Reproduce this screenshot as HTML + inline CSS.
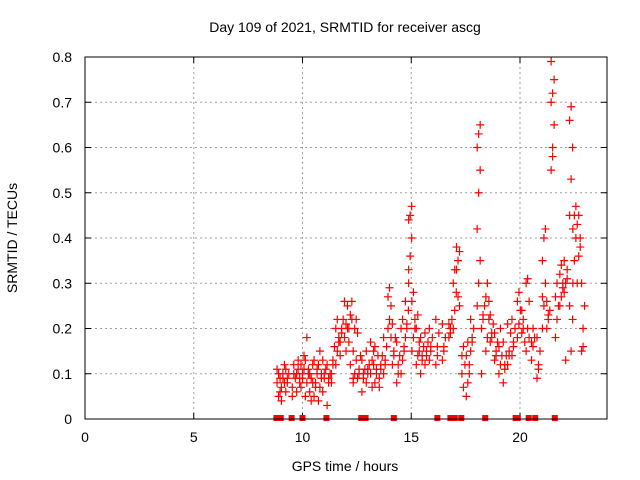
<!DOCTYPE html>
<html><head><meta charset="utf-8"><style>
body{margin:0;background:#fff}
svg{display:block;font-family:"Liberation Sans",sans-serif}
</style></head><body>
<svg id="chart" width="640" height="480" xmlns="http://www.w3.org/2000/svg">
<rect width="640" height="480" fill="#fff"/>
<text x="345" y="32" font-size="14" text-anchor="middle">Day 109 of 2021, SRMTID for receiver ascg</text>
<text x="345" y="471" font-size="14" text-anchor="middle">GPS time / hours</text>
<text transform="translate(17,238) rotate(-90)" font-size="14" text-anchor="middle">SRMTID / TECUs</text>
<g id="grid"></g><g id="axes"></g><g id="marks"></g>
<rect x="85" y="57" width="522" height="362" fill="none" stroke="#000" stroke-width="1"/>
</svg>
<script>
const xTicks=[0,5,10,15,20];
const yTicks=[0,0.1,0.2,0.3,0.4,0.5,0.6,0.7,0.8];
const yTickLabels=["0","0.1","0.2","0.3","0.4","0.5","0.6","0.7","0.8"];
const clusterTimes=[8.9,9.1,9.3,9.6,9.8,10.0,10.2,10.4,10.6,10.8,11.0,11.2,11.4,11.6,11.8,12.0,12.2,12.4,12.6,12.8,13.0,13.2,13.4,13.6,13.8,14.0,14.2,14.4,14.6,14.8,14.95,15.1,15.3,15.5,15.7,15.9,16.2,16.5,16.8,17.0,17.15,17.4,17.6,17.8,18.1,18.3,18.5,18.7,18.9,19.1,19.3,19.5,19.7,19.95,20.15,20.35,20.6,20.85,21.1,21.3,21.5,21.7,21.9,22.1,22.35,22.5,22.7,22.9];
const clusterValues=[
[.08,.1,.06,.11,.05,.09],[.07,.09,.12,.04,.1,.08],[.06,.08,.1,.11,.09],[.07,.12,.09,.05,.1],[.1,.13,.08,.06,.11,.09],
[.07,.1,.14,.12,.09,.11],[.05,.08,.11,.13,.18,.1],[.06,.09,.12,.1,.04,.08],[.05,.08,.11,.13,.07,.1],[.04,.07,.1,.12,.15,.09],
[.06,.09,.11,.13,.1],[.03,.08,.1,.12,.09],[.1,.13,.16,.08,.12],[.12,.15,.18,.2,.22,.17],[.17,.2,.22,.14,.19],
[.18,.21,.25,.26,.15,.2],[.2,.23,.26,.17,.12,.22],[.08,.1,.13,.15,.2,.22,.09],[.09,.11,.14,.19,.1],[.06,.09,.11,.13,.1],
[.08,.1,.12,.15,.11],[.1,.13,.15,.17,.07,.12],[.08,.11,.14,.16,.1],[.09,.12,.14,.07,.11],[.1,.13,.16,.18,.12],
[.2,.22,.25,.27,.29,.18],[.12,.15,.18,.21,.14],[.08,.1,.14,.17,.12],[.1,.13,.16,.2,.22,.15],[.18,.21,.24,.26,.2],
[.3,.36,.4,.44,.45,.47,.33],[.15,.18,.22,.26,.28,.2],[.12,.14,.17,.2,.23,.15],[.1,.13,.16,.18,.14],[.12,.14,.17,.19,.15],
[.13,.15,.18,.2,.16],[.12,.16,.19,.22,.14],[.13,.16,.18,.21,.15],[.18,.2,.22,.21,.19],[.2,.24,.28,.3,.33],
[.33,.35,.37,.38,.27,.25],[.14,.16,.12,.1,.07],[.05,.08,.12,.14,.17,.1],[.15,.18,.2,.22,.17],[.25,.3,.35,.42,.5,.55,.6,.63,.65],
[.2,.23,.25,.1,.22],[.15,.18,.22,.27,.3,.26],[.17,.19,.21,.23,.18],[.13,.15,.17,.19,.14],[.1,.12,.14,.16,.2],
[.08,.11,.14,.17,.12],[.12,.15,.19,.21,.14],[.14,.17,.2,.22,.16],[.18,.21,.24,.26,.28],[.19,.22,.17,.24,.2],
[.15,.2,.26,.3,.31,.18],[.17,.2,.18,.13,.16],[.09,.12,.15,.18,.11],[.2,.25,.3,.35,.4,.42,.27],[.2,.23,.24,.26,.22],
[.55,.6,.65,.7,.72,.75,.79,.58],[.18,.22,.25,.27,.3],[.25,.27,.3,.32,.34,.29],[.28,.3,.33,.35,.13,.31],[.45,.53,.6,.66,.69,.22,.25,.15],
[.3,.35,.4,.42,.45,.47],[.3,.36,.4,.43,.45,.38],[.15,.2,.25,.3,.16]];
const zeroTimes=[8.8,8.9,9.0,9.5,10.0,11.1,12.7,12.8,12.9,14.2,16.2,16.8,17.0,17.3,18.4,19.8,19.9,20.4,20.7,21.6];
const NS="http://www.w3.org/2000/svg";
const X=t=>85+t*(522/24);
const Y=v=>419-v*(362/0.8);
const grid=document.getElementById('grid'),axes=document.getElementById('axes'),marks=document.getElementById('marks');
function mk(tag,attrs,parent){const e=document.createElementNS(NS,tag);for(const k in attrs)e.setAttribute(k,attrs[k]);parent.appendChild(e);return e;}
yTicks.forEach((v,i)=>{
 if(v>0&&v<0.8){const g=mk('line',{x1:85,x2:607,y1:Y(v),y2:Y(v),stroke:'#a0a0a0','stroke-dasharray':'2,3'},grid);
 
 }
 const t=mk('text',{x:72,y:Y(v)+5,'font-size':14,'text-anchor':'end'},axes);t.textContent=yTickLabels[i];
 
 
 mk('line',{x1:85,x2:91,y1:Y(v),y2:Y(v),stroke:'#000'},axes);
 mk('line',{x1:601,x2:607,y1:Y(v),y2:Y(v),stroke:'#000'},axes);
});
xTicks.forEach(t=>{
 if(t>0){const g=mk('line',{x1:X(t),x2:X(t),y1:57,y2:419,stroke:'#a0a0a0','stroke-dasharray':'2,3'},grid);
 
 }
 const l=mk('text',{x:X(t),y:442,'font-size':14,'text-anchor':'middle'},axes);l.textContent=String(t);
 
 
 mk('line',{x1:X(t),x2:X(t),y1:413,y2:419,stroke:'#000'},axes);
 mk('line',{x1:X(t),x2:X(t),y1:57,y2:63,stroke:'#000'},axes);
});
clusterTimes.forEach((t,ci)=>{
 const vals=clusterValues[ci];
 vals.forEach((v,j)=>{
  const cx=X(t)+(j%3-1)*1.5,cy=Y(v);
  const p=mk('path',{d:`M${cx-4},${cy}h8M${cx},${cy-4}v8`,stroke:'#ff0000','stroke-width':1.2},marks);
  
  
 });
});
zeroTimes.forEach(t=>{
 const r=mk('rect',{x:X(t)-3,y:415,width:6,height:6,fill:'#ff0000'},marks);
 
 
});
</script>
</body></html>
